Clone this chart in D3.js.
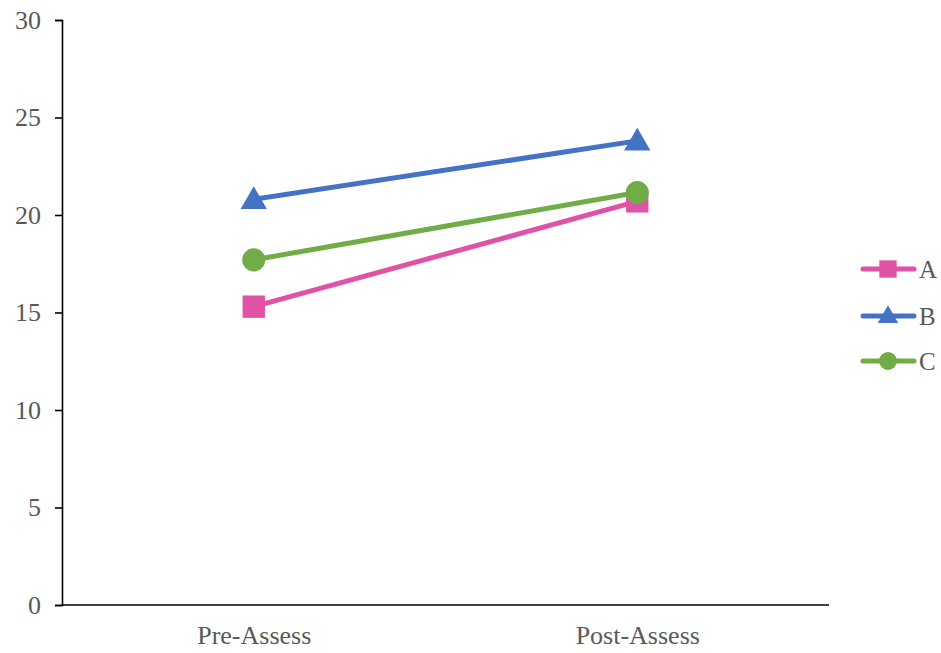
<!DOCTYPE html>
<html>
<head>
<meta charset="utf-8">
<script src="https://cdn.jsdelivr.net/npm/d3@7"></script>
<style>
  body { margin: 0; background: #fff; }
  text { font-family: "Liberation Serif", "Times New Roman", serif; fill: #595959; }
</style>
</head>
<body>
<div id="chart"></div>
<script>
var categories = ['Pre-Assess', 'Post-Assess'];
var seriesNames = ['A', 'B', 'C'];
var valuesA = [15.3, 20.7];
var valuesB = [20.8, 23.8];
var valuesC = [17.7, 21.15];
var yTicks = [0, 5, 10, 15, 20, 25, 30];

var colors = { A: '#e052a5', B: '#4472c4', C: '#70ad47' };
var shapes = { A: d3.symbolSquare, B: d3.symbolTriangle, C: d3.symbolCircle };
var sizes = { A: 500, B: 300, C: 420 };

var series = [
  { name: 'A', values: valuesA },
  { name: 'B', values: valuesB },
  { name: 'C', values: valuesC }
];

var svg = d3.select('#chart').append('svg')
  .attr('width', 941)
  .attr('height', 653);

var plotLeft = 62, plotRight = 829, plotTop = 20, plotBottom = 605;

var x = d3.scalePoint().domain(categories).range([plotLeft, plotRight]).padding(0.5);
var y = d3.scaleLinear().domain([0, 30]).range([plotBottom, plotTop]);

// y axis
var yAxis = svg.append('g')
  .attr('transform', 'translate(' + plotLeft + ',0)')
  .call(d3.axisLeft(y).tickValues(yTicks).tickSize(7).tickPadding(14));
yAxis.selectAll('path, line').attr('stroke', '#000').attr('stroke-width', 1.6);
yAxis.selectAll('text').style('font-size', '26px').attr('fill', '#595959')
  .style('font-family', '"Liberation Serif", serif');

// x axis
var xAxis = svg.append('g')
  .attr('transform', 'translate(0,' + plotBottom + ')')
  .call(d3.axisBottom(x).tickSize(0).tickPadding(21));
xAxis.select('.domain').attr('stroke', '#000').attr('stroke-width', 1.6)
  .attr('d', 'M' + plotLeft + ',0H' + plotRight);
xAxis.selectAll('text').style('font-size', '26px').attr('fill', '#595959')
  .style('font-family', '"Liberation Serif", serif');

var line = d3.line()
  .x(function (d, i) { return x(categories[i]); })
  .y(function (d) { return y(d); });

var symbolPath = function (name) {
  return d3.symbol().type(shapes[name]).size(sizes[name])();
};

series.forEach(function (s) {
  svg.append('path')
    .datum(s.values)
    .attr('d', line)
    .attr('fill', 'none')
    .attr('stroke', colors[s.name])
    .attr('stroke-width', 5)
    .attr('stroke-linecap', 'round');
});

// markers drawn after lines; A first so C sits on top at Post-Assess
series.forEach(function (s) {
  svg.selectAll('.m' + s.name).data(s.values)
    .enter().append('path')
    .attr('class', 'm' + s.name)
    .attr('d', symbolPath(s.name))
    .attr('transform', function (d, i) {
      var dy = s.name === 'B' ? 2 : 0;
      return 'translate(' + x(categories[i]) + ',' + (y(d) + dy) + ')';
    })
    .attr('fill', colors[s.name]);
});

// legend
var legendY = { A: 269, B: 316, C: 361 };
var legend = svg.selectAll('.legend').data(seriesNames)
  .enter().append('g')
  .attr('class', 'legend')
  .attr('transform', function (d) { return 'translate(0,' + legendY[d] + ')'; });

legend.append('line')
  .attr('x1', 863).attr('x2', 914)
  .attr('y1', 0).attr('y2', 0)
  .attr('stroke', function (d) { return colors[d]; })
  .attr('stroke-width', 5)
  .attr('stroke-linecap', 'round');

legend.append('path')
  .attr('d', function (d) {
    return d3.symbol().type(shapes[d]).size(sizes[d] * 0.6)();
  })
  .attr('transform', function (d) { return 'translate(888,' + (d === 'B' ? 1 : 0) + ')'; })
  .attr('fill', function (d) { return colors[d]; });

legend.append('text')
  .attr('x', 919)
  .attr('y', 0)
  .attr('dy', '0.35em')
  .style('font-size', '25px')
  .text(function (d) { return d; });
</script>
</body>
</html>
